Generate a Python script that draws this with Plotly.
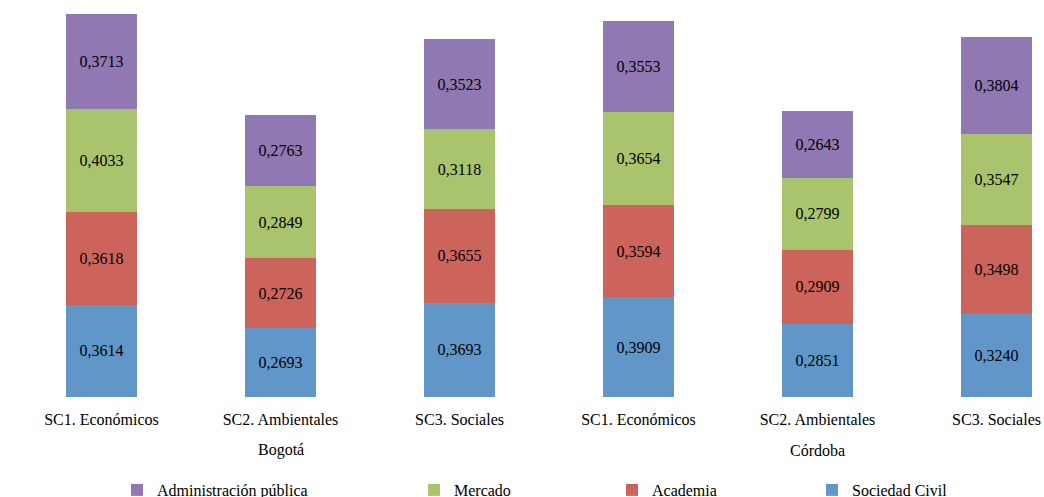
import plotly.graph_objects as go

# escenarios / ciudades
categorias = ['SC1. Económicos', 'SC2. Ambientales', 'SC3. Sociales',
              'SC1. Económicos', 'SC2. Ambientales', 'SC3. Sociales']
ciudades = ['Bogotá', 'Córdoba']

# valores por actor (de abajo hacia arriba en la pila)
sociedad_civil = [0.3614, 0.2693, 0.3693, 0.3909, 0.2851, 0.3240]
academia = [0.3618, 0.2726, 0.3655, 0.3594, 0.2909, 0.3498]
mercado = [0.4033, 0.2849, 0.3118, 0.3654, 0.2799, 0.3547]
administracion = [0.3713, 0.2763, 0.3523, 0.3553, 0.2643, 0.3804]

series = [
    ('Sociedad Civil', sociedad_civil, '#6096C8', 'legend4'),
    ('Academia', academia, '#CD645C', 'legend3'),
    ('Mercado', mercado, '#A9C46D', 'legend2'),
    ('Administración pública', administracion, '#9079B2', 'legend'),
]

FONT = 'Liberation Serif'
W, H = 1044, 497
L, R, T, B = 12, 0, 10, 497 - 397
plot_w = W - L - R
plot_h = H - T - B
step = 179.0  # px por categoria

xs = list(range(len(categorias)))

fig = go.Figure()
for name, vals, color, leg in series:
    fig.add_trace(go.Bar(
        x=xs, y=vals, name=name, legend=leg,
        marker=dict(color=color, line=dict(width=0)),
        width=0.4,
        text=[('%.4f' % v).replace('.', ',') for v in vals],
        textposition='inside', insidetextanchor='middle',
        textfont=dict(family=FONT, size=16, color='black'),
        textangle=0,
    ))

leg_common = dict(orientation='h', font=dict(family=FONT, size=16, color='black'),
                  bgcolor='rgba(0,0,0,0)', itemwidth=30, yanchor='middle',
                  xanchor='left', xref='container', yref='container',
                  y=1 - 490 / H)
legends = {}
for key, text_x in [('legend', 157), ('legend2', 454), ('legend3', 652), ('legend4', 852)]:
    d = dict(leg_common)
    d['x'] = (text_x - 40) / W
    legends[key] = d

fig.update_layout(
    barmode='stack',
    width=W, height=H,
    margin=dict(l=L, r=R, t=T, b=B, autoexpand=False),
    plot_bgcolor='white', paper_bgcolor='white',
    font=dict(family=FONT, size=16, color='black'),
    showlegend=True,
    uniformtext=dict(mode=False),
    xaxis=dict(
        tickmode='array', tickvals=xs, ticktext=categorias,
        range=[-0.5, -0.5 + plot_w / step],
        showgrid=False, zeroline=False, showline=False,
        ticks='outside', ticklen=8, tickcolor='white',
        ticklabeloverflow='allow',
        tickfont=dict(family=FONT, size=16, color='black'),
    ),
    yaxis=dict(range=[0, plot_h / 255.7], visible=False),
    **legends,
)

# etiquetas de ciudad
for i, ciudad in enumerate(ciudades):
    fig.add_annotation(x=1 + 3 * i, y=-(450 - 397) / plot_h, xref='x', yref='paper',
                       text=ciudad, showarrow=False, yanchor='middle',
                       font=dict(family=FONT, size=16, color='black'))

fig.write_html('out.html',
               config={'displayModeBar': False},
               post_script="document.body.style.margin='0';"
                           "document.body.style.overflow='hidden';")
